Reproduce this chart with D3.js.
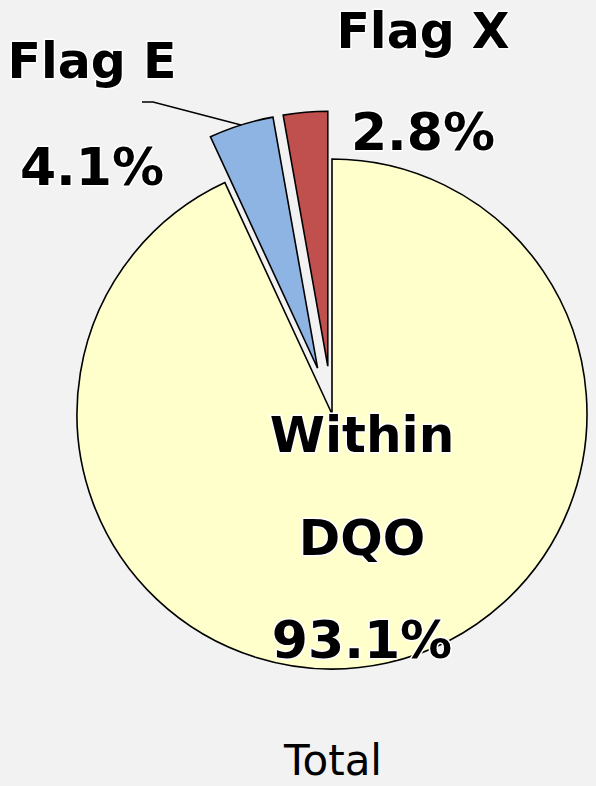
<!doctype html>
<html>
<head>
<meta charset="utf-8" />
<script src="https://cdn.jsdelivr.net/npm/d3@7"></script>
<style>
  body { margin: 0; background: #f2f2f2; }
  text { font-family: "DejaVu Sans", Verdana, sans-serif; }
</style>
</head>
<body>
<script>
 // chart data
 var names = ["Within DQO", "Flag E", "Flag X"];
 var values = [93.1, 4.1, 2.8];
 var colors = ["#ffffcc", "#8db4e2", "#c0504d"];
 var explode = [0, 48, 48];
 var title = "Total";

 var w = 596, h = 786;
 var cx = 332, cy = 414, r = 255;

 var svg = d3.select("body").append("svg")
     .attr("width", w)
     .attr("height", h);

 svg.append("rect").attr("width", w).attr("height", h).attr("fill", "#f2f2f2");

 var pie = d3.pie().sort(null).value(function(d){ return d; });
 var arcs = pie(values);
 var arc = d3.arc().innerRadius(0).outerRadius(r);

 var offset = function(d, i){
     var a = (d.startAngle + d.endAngle) / 2;
     return [cx + Math.sin(a) * explode[i], cy - Math.cos(a) * explode[i]];
 };

 svg.selectAll("path.slice")
    .data(arcs)
    .enter()
    .append("path")
    .attr("class", "slice")
    .attr("transform", function(d, i){ return "translate(" + offset(d, i) + ")"; })
    .attr("d", arc)
    .attr("fill", function(d, i){ return colors[i]; })
    .attr("stroke", "#000")
    .attr("stroke-width", 1.6)
    .attr("stroke-linejoin", "miter");

 // leader line for Flag E
 var e = arcs[1], eo = offset(e, 1);
 var ea = (e.startAngle + e.endAngle) / 2;
 var tip = [eo[0] + Math.sin(ea) * r, eo[1] - Math.cos(ea) * r];
 svg.append("path")
    .attr("d", d3.line()([[142, 102], [153, 102], tip]))
    .attr("fill", "none")
    .attr("stroke", "#000")
    .attr("stroke-width", 1.5);

 // labels
 var labels = [
     {lines: ["Within", "DQO", values[0].toFixed(1) + "%"], x: 362, y: 452, dy: 103, size: [50, 50, 52]},
     {lines: ["Flag E", values[1].toFixed(1) + "%"], x: 92, y: 78, dy: 107, size: [49, 52]},
     {lines: ["Flag X", values[2].toFixed(1) + "%"], x: 423, y: 48, dy: 102, size: [49, 52]}
 ];

 labels.forEach(function(l){
     l.lines.forEach(function(t, j){
	 svg.append("text")
	    .attr("x", l.x)
	    .attr("y", l.y + j * l.dy)
	    .attr("text-anchor", "middle")
	    .attr("font-size", l.size[j] + "px")
	    .attr("font-weight", "bold")
	    .attr("fill", "#000")
	    .attr("stroke", "#fff")
	    .attr("stroke-width", 3)
	    .attr("stroke-linejoin", "round")
	    .attr("paint-order", "stroke")
	    .text(t);
     });
 });

 svg.append("text")
    .attr("x", 333)
    .attr("y", 775)
    .attr("text-anchor", "middle")
    .attr("font-size", "42px")
    .attr("fill", "#000")
    .text(title);
</script>
</body>
</html>
